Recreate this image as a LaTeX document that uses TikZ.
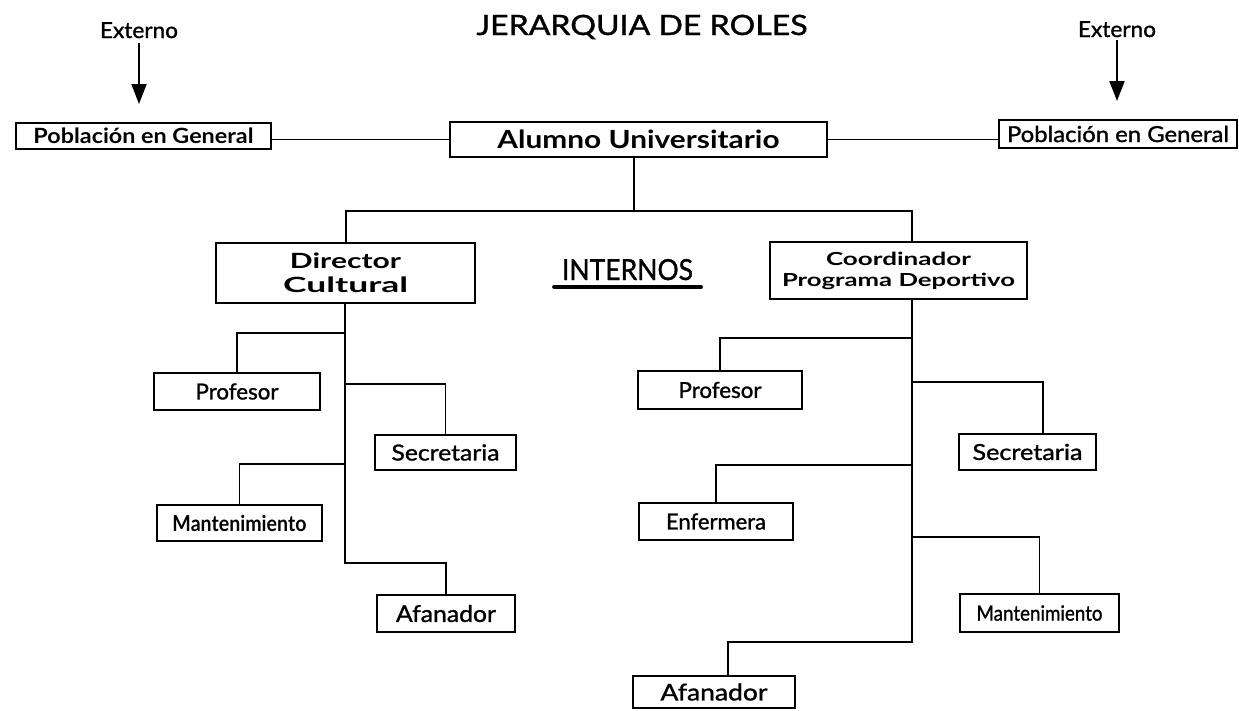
\documentclass[tikz,border=0pt]{standalone}
\usepackage{fontspec}
\setmainfont{Lato}
\newfontfamily\medf{Lato}[FakeBold=1.2]
\usepackage{graphicx}
\usetikzlibrary{arrows.meta}
\newcommand\fw[3]{\resizebox{#1pt}{\height}{\fontsize{#2}{#2}\selectfont #3}}
\begin{document}
\begin{tikzpicture}[x=1pt,y=-1pt,line width=1.8pt,
  box/.style={draw,line width=1.8pt,inner sep=0pt,align=center},
  lbl/.style={inner sep=0pt,anchor=base},
  arr/.style={-{Triangle[width=15pt,length=20pt]},line width=2pt}]
\fill[white] (0,0) rectangle (1239,710);
\useasboundingbox (0,0) rectangle (1239,710);

% titles
\node[lbl] (title) at (642,35) {\fw{331}{28}{\medf JERARQUIA DE ROLES}};
\node[lbl] (extL) at (139,38) {\fw{78}{22}{\medf Externo}};
\node[lbl] (extR) at (1117,37) {\fw{78}{22}{\medf Externo}};
\node[lbl] (intern) at (627.5,280) {\fw{131}{29}{\medf INTERNOS}};
\draw[line width=4pt,line cap=round] ([xshift=-7pt,yshift=-7pt]intern.base west) -- ([xshift=7pt,yshift=-7pt]intern.base east);

% boxes
\node[box,minimum width=255pt,minimum height=26pt] (pobL) at (143.5,136) {\fw{220}{21}{\bfseries Población en General}};
\node[box,minimum width=377pt,minimum height=35pt] (alumno) at (638.5,139.5) {\fw{282}{25}{\bfseries Alumno Universitario}};
\node[box,minimum width=238pt,minimum height=28pt] (pobR) at (1118,134) {\fw{222}{22}{\medf Población en General}};
\node[box,minimum width=259pt,minimum height=60pt,font=\fontsize{21}{24}\selectfont] (dir) at (345.5,273) {\fw{111}{21}{\bfseries Director}\\\fw{125}{21}{\bfseries Cultural}};
\node[box,minimum width=257pt,minimum height=57pt,font=\fontsize{18}{21}\selectfont] (coord) at (898.5,270.5) {\fw{145}{18}{\bfseries Coordinador}\\\fw{233}{18}{\bfseries Programa Deportivo}};

\node[box,minimum width=166pt,minimum height=37pt] (profL) at (237,391.5) {\fw{83}{22}{\medf Profesor}};
\node[box,minimum width=141pt,minimum height=35pt] (secL) at (445.5,452.5) {\fw{108}{22}{\medf Secretaria}};
\node[box,minimum width=165pt,minimum height=36pt] (mantL) at (239.5,523) {\fw{134}{22}{\bfseries Mantenimiento}};
\node[box,minimum width=138pt,minimum height=37pt] (afaL) at (446,613.5) {\fw{100}{23}{\medf Afanador}};

\node[box,minimum width=164pt,minimum height=38pt] (profR) at (720,390) {\fw{83}{22}{\medf Profesor}};
\node[box,minimum width=137pt,minimum height=36pt] (secR) at (1027.5,452) {\fw{110}{22}{\medf Secretaria}};
\node[box,minimum width=154pt,minimum height=37pt] (enf) at (716,521.5) {\fw{100}{22}{\medf Enfermera}};
\node[box,minimum width=159pt,minimum height=38pt] (mantR) at (1039.5,613) {\fw{126}{21}{\medf Mantenimiento}};
\node[box,minimum width=162pt,minimum height=32pt] (afaR) at (714,692) {\fw{107}{23}{\medf Afanador}};

% external arrows
\draw[arr] ([yshift=-5pt]extL.base) -- (extL.base |- 0,104);
\draw[arr] ([yshift=-3pt]extR.base) -- (extR.base |- 0,101);

% top connectors
\draw (pobL.east |- alumno.west) -- (alumno.west);
\draw (alumno.east) -- (alumno.east -| pobR.west);
\coordinate (jTop) at (634,211);
\coordinate (jDir) at (346,211);
\coordinate (jCoord) at (912,211);
\draw (alumno.south -| jTop) -- (jTop);
\draw (dir.north -| jDir) -- (jDir) -- (jCoord) -- (coord.north -| jCoord);

% left tree
\coordinate (l1) at (345,333);
\coordinate (l2) at (345,384);
\coordinate (l3) at (345,464);
\coordinate (lt) at (345,563);
\draw (dir.south -| lt) -- (lt) -| (afaL.north);
\draw (l1) -| (profL.north);
\draw (l2) -| (secL.north);
\draw (l3) -| (mantL.north);

% right tree
\coordinate (r1) at (912,338);
\coordinate (r2) at (912,382);
\coordinate (r3) at (912,465);
\coordinate (r4) at (912,537);
\coordinate (rt) at (912,642);
\draw (coord.south -| rt) -- (rt) -| ([xshift=14pt]afaR.north);
\draw (r1) -| (profR.north);
\draw (r2) -| ([xshift=15.5pt]secR.north);
\draw (r3) -| (enf.north);
\draw (r4) -| (mantR.north);
\end{tikzpicture}
\end{document}
